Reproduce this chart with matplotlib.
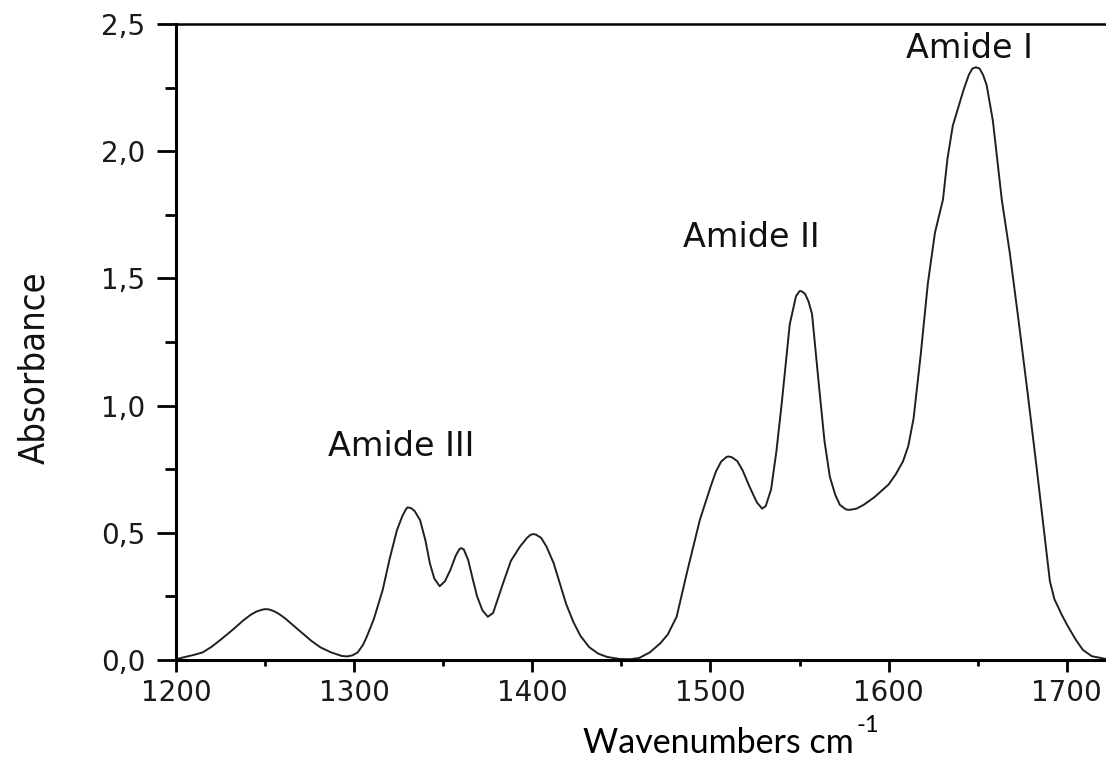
import matplotlib
matplotlib.use("Agg")
import matplotlib.pyplot as plt
from matplotlib.ticker import MultipleLocator

# ---- data ----
wavenumber = [1200, 1204, 1210, 1215, 1220, 1226, 1232, 1238, 1242, 1245, 1248, 1250, 1252,
              1255, 1258, 1261, 1266, 1271, 1276, 1281, 1287, 1293, 1296, 1299, 1302, 1305,
              1307, 1311, 1316, 1320, 1324, 1327, 1329, 1330, 1332, 1334, 1337, 1340, 1342.5,
              1345, 1348, 1351, 1354, 1357, 1359, 1360, 1361.5, 1364, 1366.5, 1369, 1372,
              1375, 1378, 1383.5, 1388, 1393, 1397, 1399, 1400.5, 1402, 1405, 1408, 1412,
              1415.5, 1419, 1423, 1427, 1432, 1437, 1442, 1449, 1455, 1460, 1466, 1472, 1476,
              1481, 1487, 1494, 1500, 1503, 1506, 1509, 1510, 1512, 1515, 1518, 1522, 1526,
              1529, 1531, 1534, 1537, 1540, 1544.5, 1548, 1550, 1551, 1553, 1555, 1557, 1561,
              1564, 1567, 1570, 1572.6, 1576, 1578, 1582, 1586, 1592, 1600, 1604, 1608, 1611,
              1614, 1618, 1622, 1626, 1630.5, 1633, 1636, 1639, 1642, 1645, 1647, 1649, 1651,
              1653, 1655, 1658.5, 1663.5, 1668, 1673, 1678, 1683, 1687, 1690.5, 1693, 1697,
              1700, 1705, 1709, 1714, 1722]
absorbance = [0.003, 0.01, 0.02, 0.03, 0.052, 0.085, 0.12, 0.157, 0.178, 0.19, 0.197, 0.2,
              0.199, 0.192, 0.18, 0.165, 0.135, 0.105, 0.075, 0.05, 0.03, 0.016, 0.014, 0.018,
              0.03, 0.06, 0.09, 0.16, 0.275, 0.4, 0.51, 0.565, 0.592, 0.6, 0.597, 0.585,
              0.55, 0.47, 0.38, 0.32, 0.29, 0.31, 0.354, 0.41, 0.435, 0.44, 0.435, 0.393,
              0.32, 0.25, 0.195, 0.17, 0.185, 0.30, 0.39, 0.445, 0.48, 0.492, 0.495, 0.493,
              0.48, 0.445, 0.38, 0.30, 0.22, 0.15, 0.095, 0.05, 0.025, 0.012, 0.004, 0.003,
              0.008, 0.03, 0.067, 0.1, 0.17, 0.35, 0.55, 0.68, 0.74, 0.78, 0.798, 0.80,
              0.797, 0.782, 0.746, 0.68, 0.62, 0.595, 0.605, 0.67, 0.82, 1.01, 1.32, 1.43,
              1.45, 1.45, 1.44, 1.41, 1.36, 1.07, 0.86, 0.72, 0.65, 0.61, 0.592, 0.59,
              0.595, 0.61, 0.64, 0.69, 0.73, 0.78, 0.84, 0.95, 1.2, 1.48, 1.68, 1.81, 1.97,
              2.1, 2.17, 2.24, 2.3, 2.325, 2.33, 2.325, 2.3, 2.26, 2.12, 1.81, 1.6, 1.33,
              1.05, 0.76, 0.52, 0.31, 0.24, 0.18, 0.14, 0.08, 0.04, 0.015, 0.004]

band_labels = ["Amide I", "Amide II", "Amide III"]
band_x = [1645.6, 1522.7, 1326.3]
band_y = [2.405, 1.66, 0.84]

x_ticks = [1200, 1300, 1400, 1500, 1600, 1700]
x_tick_labels = ["1200", "1300", "1400", "1500", "1600", "1700"]
y_ticks = [0.0, 0.5, 1.0, 1.5, 2.0, 2.5]
y_tick_labels = ["0,0", "0,5", "1,0", "1,5", "2,0", "2,5"]

# ---- figure ----
W, H = 1106, 760
fig = plt.figure(figsize=(W / 100, H / 100), dpi=100)
ax = fig.add_axes([176 / W, 100 / H, 1 - 176 / W, 636 / H])

ax.plot(wavenumber, absorbance, color="#202020", lw=1.4)

ax.set_xlim(1200, 1722)
ax.set_ylim(0, 2.5)

ax.spines["right"].set_visible(False)
for s in ("left", "bottom"):
    ax.spines[s].set_linewidth(2.2)
ax.spines["top"].set_linewidth(1.8)

ax.set_xticks(x_ticks)
ax.set_xticklabels(x_tick_labels)
ax.set_yticks(y_ticks)
ax.set_yticklabels(y_tick_labels)
ax.xaxis.set_minor_locator(MultipleLocator(50))
ax.yaxis.set_minor_locator(MultipleLocator(0.25))

ax.tick_params(axis="x", which="major", direction="out", length=8.5, width=2,
               pad=5, labelsize=20)
ax.tick_params(axis="x", which="minor", direction="out", length=4.5, width=2)
ax.tick_params(axis="y", which="major", direction="out", length=14, width=2,
               pad=8, labelsize=20)
ax.tick_params(axis="y", which="minor", direction="out", length=8, width=2)
for lab in ax.get_xticklabels() + ax.get_yticklabels():
    lab.set_family("DejaVu Sans")
    lab.set_color("#1a1a1a")

for lab, bx, by in zip(band_labels, band_x, band_y):
    ax.text(bx, by, lab, ha="center", va="center", fontsize=24,
            family="DejaVu Sans", color="#111111")

fig.text(34 / W, 1 - 368 / H, "Absorbance", rotation=90, ha="center", va="center",
         fontsize=26, family="DejaVu Sans", fontstretch="condensed", color="#111111")

t = fig.text(583 / W, 7 / H, "Wavenumbers cm", ha="left", va="baseline",
             fontsize=24.5, family="Lato", color="#000000")
ax.annotate("-1", xy=(1.0, 1.0), xycoords=t, xytext=(2, 9), textcoords="offset points",
            ha="left", va="top", fontsize=17, family="Lato", color="#000000")

fig.savefig("out.png", dpi=100)
